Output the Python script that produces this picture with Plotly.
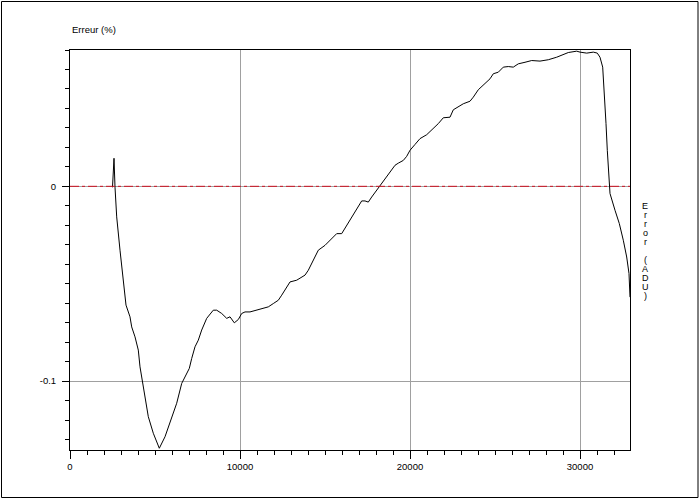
import plotly.graph_objects as go

# Data (x in ADU, error in %)
adu = [2500, 2588, 2647, 2747, 2941, 3135, 3294, 3529, 3629, 3824, 4018, 4118, 4276, 4412,
       4606, 4900, 5253, 5588, 5882, 6276, 6571, 6765, 7018, 7159, 7353, 7547, 7747, 8041,
       8429, 8629, 8924, 9218, 9412, 9665, 9900, 10100, 10294, 10588, 10982, 11276, 11665,
       11959, 12253, 12453, 12747, 12941, 13335, 13529, 13824, 14018, 14312, 14606, 15000,
       15394, 15688, 15982, 16276, 16571, 16865, 17159, 17353, 17547, 17747, 18041, 18235,
       18529, 18824, 19118, 19312, 19606, 19806, 20000, 20294, 20588, 20982, 21371, 21665,
       21959, 22353, 22547, 22841, 23135, 23529, 23724, 24018, 24412, 24706, 24900, 25194,
       25488, 25782, 26076, 26371, 26765, 27159, 27647, 28135, 28629, 29018, 29312, 29806,
       30000, 30394, 30782, 31018, 31176, 31335, 31429, 31529, 31606, 31724, 31765, 32059,
       32312, 32547, 32747, 32882, 32941]
erreur = [-0.0005, 0.0144, -0.0004, -0.0157, -0.0328, -0.0497, -0.0610, -0.0670, -0.0722,
          -0.0773, -0.0841, -0.0927, -0.1012, -0.1081, -0.1183, -0.1268, -0.1345, -0.1286,
          -0.1217, -0.1114, -0.1012, -0.0978, -0.0935, -0.0884, -0.0824, -0.0790, -0.0738,
          -0.0678, -0.0636, -0.0636, -0.0653, -0.0678, -0.0670, -0.0701, -0.0684, -0.0653,
          -0.0645, -0.0645, -0.0636, -0.0627, -0.0619, -0.0602, -0.0585, -0.0559, -0.0516,
          -0.0491, -0.0482, -0.0473, -0.0456, -0.0431, -0.0379, -0.0328, -0.0303, -0.0268,
          -0.0243, -0.0243, -0.0200, -0.0157, -0.0114, -0.0075, -0.0075, -0.0081, -0.0055,
          -0.0021, 0.0005, 0.0039, 0.0073, 0.0108, 0.0119, 0.0133, 0.0154, 0.0185, 0.0215,
          0.0245, 0.0265, 0.0296, 0.0322, 0.0352, 0.0355, 0.0393, 0.0410, 0.0424, 0.0437,
          0.0458, 0.0496, 0.0530, 0.0552, 0.0578, 0.0586, 0.0612, 0.0615, 0.0612, 0.0629,
          0.0637, 0.0646, 0.0643, 0.0650, 0.0663, 0.0677, 0.0687, 0.0694, 0.0689, 0.0684,
          0.0689, 0.0684, 0.0663, 0.0612, 0.0492, 0.0322, 0.0185, -0.0004, -0.0037, -0.0123,
          -0.0191, -0.0277, -0.0363, -0.0448, -0.0569]

x_tickvals = [0, 10000, 20000, 30000]
x_ticktext = ["0", "10000", "20000", "30000"]
y_tickvals = [-0.1, 0]
y_ticktext = ["-0.1", "0"]
y_title = "Erreur (%)"
x_title = "Error (ADU)"

FONT = "Liberation Sans"

fig = go.Figure()
fig.add_trace(go.Scatter(x=adu, y=erreur, mode="lines",
                         line=dict(color="black", width=1), showlegend=False,
                         hoverinfo="skip"))

# red dash-dot zero line
fig.add_shape(type="line", xref="paper", x0=0, x1=1, yref="y", y0=0, y1=0,
              line=dict(color="#cc1020", width=1, dash="dashdot"), layer="above")

# outer frame of the picture
fig.add_shape(type="rect", xref="paper", yref="paper",
              x0=-68.5 / 560, x1=628 / 560, y0=-47.5 / 400, y1=448.5 / 400,
              line=dict(color="black", width=1))

fig.add_annotation(text=y_title, xref="paper", yref="paper", x=0, y=1,
                   xanchor="left", yanchor="bottom", yshift=13, showarrow=False,
                   font=dict(family=FONT, size=9.5, color="black"))

for i, ch in enumerate(x_title):
    if ch == " ":
        continue
    fig.add_annotation(text=ch, xref="paper", yref="paper", x=1, y=1,
                       xanchor="center", yanchor="middle", xshift=15,
                       yshift=-(156 + 9 * i), showarrow=False,
                       font=dict(family=FONT, size=9, color="black"))

fig.update_layout(
    width=700, height=500,
    margin=dict(l=70, r=70, t=50, b=50),
    paper_bgcolor="white", plot_bgcolor="white",
    font=dict(family=FONT, size=9, color="black"),
    xaxis=dict(range=[0, 32941], tickvals=x_tickvals, ticktext=x_ticktext,
               ticks="outside", ticklen=8,
               tickcolor="black", showline=True, linecolor="black", linewidth=1,
               mirror=True, showgrid=True, gridcolor="#a0a0a0", gridwidth=1,
               zeroline=False, ticklabelstandoff=0,
               tickfont=dict(family=FONT, size=9.5, color="black"),
               minor=dict(dtick=1000, tick0=0, ticks="outside", ticklen=4,
                          tickcolor="black", showgrid=False)),
    yaxis=dict(range=[-0.1354, 0.07], tickvals=y_tickvals, ticktext=y_ticktext,
               ticks="outside", ticklen=7, tickcolor="black", showline=True,
               linecolor="black", linewidth=1, mirror=True, showgrid=True,
               gridcolor="#a0a0a0", gridwidth=1, zeroline=False, ticklabelstandoff=4,
               tickfont=dict(family=FONT, size=9.5, color="black"),
               minor=dict(dtick=0.01, tick0=0, ticks="outside", ticklen=4,
                          tickcolor="black", showgrid=False)),
)

fig.write_html("out.html", config={"displayModeBar": False},
               post_script="document.body.style.margin='0';document.body.style.padding='0';")
